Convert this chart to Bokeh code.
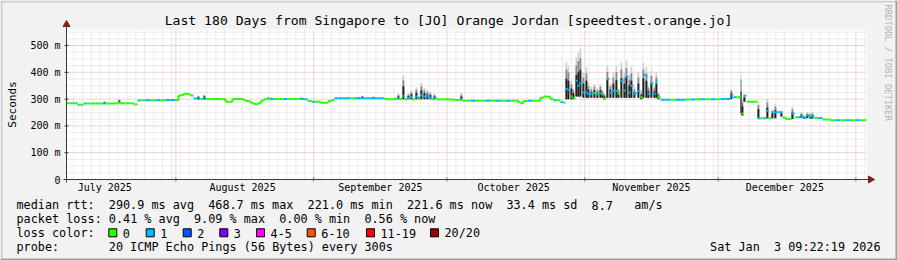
import re
import numpy as np
import pandas as pd
from bokeh.plotting import figure
from bokeh.models import Range1d, ColumnDataSource
from bokeh.core.properties import value
from bokeh.embed import file_html
from bokeh.resources import INLINE

# ---------------- data ----------------
title_text = "Last 180 Days from Singapore to [JO] Orange Jordan [speedtest.orange.jo]"
start_time = "2025-07-07 09:22:19"
end_time = "2026-01-03 09:22:19"

# days since start of the graph
day = [0.00, 0.90, 2.03, 2.48, 3.15, 3.83, 4.50, 5.40, 6.53, 7.65, 8.33, 9.00, 9.90,
       11.03, 11.70, 12.15, 13.28, 14.40, 15.08, 15.53, 15.98, 16.65, 17.78, 18.90,
       20.03, 21.15, 22.28, 23.40, 24.53, 25.20, 25.88, 26.55, 27.23, 27.90, 28.58,
       29.48, 30.15, 30.83, 31.50, 32.40, 33.53, 34.65, 35.33, 35.78, 36.45, 37.35,
       38.25, 39.15, 39.83, 40.50, 41.40, 42.08, 42.75, 43.20, 43.88, 44.55, 45.23,
       45.90, 46.58, 47.70, 48.83, 49.73, 50.85, 51.98, 52.65, 53.55, 54.23, 55.13,
       56.03, 57.15, 58.28, 58.95, 59.63, 60.30, 61.20, 62.10, 63.00, 63.90, 64.80,
       65.70, 66.38, 67.28, 68.18, 68.85, 69.75, 70.65, 71.55, 72.45, 73.13, 73.80,
       74.48, 74.93, 75.60, 76.05, 76.73, 77.40, 77.85, 78.53, 79.20, 79.65, 80.33,
       81.00, 81.68, 82.13, 82.58, 83.25, 84.15, 85.28, 86.40, 87.53, 88.20, 88.65,
       89.10, 90.00, 90.90, 92.03, 93.15, 94.28, 95.40, 96.53, 97.65, 98.78, 99.90,
       101.03, 101.70, 102.15, 102.83, 103.73, 104.85, 105.75, 106.65, 107.33, 108.23,
       108.90, 109.58, 110.25, 111.15, 111.83, 112.28, 112.73, 113.40, 113.85, 114.53,
       114.98, 115.43, 116.10, 116.78, 117.23, 117.90, 118.58, 119.25, 119.93, 120.38,
       120.83, 121.50, 122.18, 122.85, 123.53, 123.98, 124.65, 125.33, 125.78, 126.45,
       126.90, 127.58, 128.48, 129.15, 129.60, 130.28, 130.73, 131.40, 132.08, 132.53,
       132.98, 133.65, 134.78, 135.90, 137.03, 138.15, 139.28, 140.40, 141.53, 142.65,
       143.78, 144.90, 146.03, 147.15, 148.28, 149.40, 150.08, 150.75, 151.65, 151.88,
       152.33, 153.00, 153.90, 154.80, 155.48, 156.15, 156.83, 157.50, 157.95, 158.63,
       159.30, 159.98, 160.65, 161.10, 161.78, 162.45, 163.13, 163.80, 164.48, 165.15,
       165.83, 166.50, 167.18, 167.63, 168.30, 169.20, 170.10, 171.00, 171.90, 173.03,
       174.15, 175.28, 176.40, 177.53, 178.65, 179.78]

# median round trip time (ms)
median_ms = [285, 285, 285, 279, 279, 284, 284, 284, 284, 284, 284, 284, 284,
             285, 287, 285, 285, 285, 281, 281, 295, 296, 296, 296,
             296, 296, 297, 297, 296, 314, 316, 320, 318, 314, 302,
             301, 301, 301, 301, 301, 301, 301, 301, 290, 290, 301,
             301, 301, 296, 292, 287, 282, 281, 287, 296, 301, 301,
             301, 301, 301, 301, 301, 301, 301, 301, 300, 293, 290,
             290, 287, 287, 292, 297, 303, 303, 303, 303, 303, 303,
             303, 303, 303, 303, 303, 303, 303, 301, 300, 300, 301,
             305, 301, 312, 300, 305, 308, 300, 310, 301, 315, 310,
             312, 305, 300, 306, 300, 300, 300, 298, 297, 297, 300,
             294, 294, 294, 294, 294, 294, 294, 294, 294, 294, 294,
             294, 288, 285, 293, 294, 294, 294, 305, 310, 309,
             300, 296, 296, 289, 287, 338, 335, 310, 302, 369,
             350, 358, 325, 325, 320, 320, 322, 318, 322, 318,
             302, 375, 325, 332, 330, 320, 369, 332, 385, 325,
             350, 320, 330, 307, 390, 385, 320, 358, 320, 369,
             307, 298, 298, 298, 298, 298, 299, 299, 300, 300,
             300, 300, 300, 301, 301, 313, 307, 307, 369, 246,
             313, 290, 290, 290, 229, 229, 229, 257, 229, 251,
             251, 251, 251, 232, 226, 226, 246, 232, 232, 236,
             230, 240, 236, 236, 230, 230, 224, 224, 221, 221,
             221, 221, 221, 221, 221, 222]

# top of the smoke (slowest pings, ms)
smoke_top_ms = [285, 285, 285, 279, 279, 284, 284, 284, 284, 284, 292, 284, 284,
                285, 300, 285, 285, 285, 281, 281, 295, 296, 296, 296,
                296, 296, 297, 297, 296, 314, 316, 320, 318, 314, 302,
                313, 301, 317, 301, 301, 301, 301, 301, 290, 290, 301,
                301, 301, 296, 292, 287, 282, 281, 287, 296, 301, 308,
                306, 301, 301, 301, 301, 301, 301, 307, 300, 293, 290,
                290, 287, 287, 297, 297, 303, 303, 303, 303, 303, 303,
                308, 313, 303, 303, 310, 303, 303, 301, 300, 300, 306,
                320, 301, 388, 300, 322, 333, 300, 344, 310, 360, 342,
                333, 327, 300, 320, 300, 300, 300, 298, 297, 297, 322,
                294, 294, 294, 294, 294, 294, 294, 294, 294, 294, 294,
                294, 288, 285, 293, 294, 294, 294, 305, 310, 309,
                300, 296, 296, 289, 287, 438, 425, 370, 340, 456,
                475, 489, 400, 420, 360, 345, 357, 340, 357, 335,
                320, 425, 360, 400, 425, 340, 437, 400, 444, 390,
                420, 345, 400, 330, 437, 420, 350, 407, 350, 400,
                325, 298, 298, 298, 298, 298, 299, 299, 300, 300,
                300, 300, 300, 301, 301, 338, 307, 307, 394, 300,
                320, 290, 290, 290, 290, 229, 229, 301, 229, 262,
                282, 251, 258, 232, 226, 226, 270, 232, 232, 251,
                240, 251, 248, 251, 230, 230, 224, 224, 221, 221,
                221, 221, 221, 221, 221, 222]

# bottom of the smoke (fastest pings, ms)
smoke_low_ms = [285, 285, 285, 279, 279, 284, 284, 284, 284, 284, 284, 284, 284,
                285, 287, 285, 285, 285, 281, 281, 295, 296, 296, 296,
                296, 296, 297, 297, 296, 314, 316, 320, 318, 314, 302,
                301, 301, 301, 301, 301, 301, 301, 301, 290, 290, 301,
                301, 301, 296, 292, 287, 282, 281, 287, 296, 301, 301,
                301, 301, 301, 301, 301, 301, 301, 301, 300, 293, 290,
                290, 287, 287, 292, 297, 303, 303, 303, 303, 303, 303,
                303, 303, 303, 303, 303, 303, 303, 301, 300, 300, 301,
                300, 301, 300, 300, 300, 300, 300, 300, 300, 300, 300,
                300, 300, 300, 300, 300, 300, 300, 298, 297, 297, 296,
                294, 294, 294, 294, 294, 294, 294, 294, 294, 294, 294,
                294, 288, 285, 293, 294, 294, 294, 305, 310, 309,
                300, 296, 296, 289, 287, 300, 300, 300, 300, 310,
                310, 310, 305, 305, 305, 305, 305, 305, 305, 305,
                300, 305, 305, 305, 305, 305, 305, 305, 305, 305,
                305, 305, 305, 300, 305, 305, 305, 305, 305, 305,
                300, 298, 298, 298, 298, 298, 299, 299, 300, 300,
                300, 300, 300, 301, 301, 301, 307, 307, 246, 239,
                290, 290, 290, 290, 229, 229, 229, 229, 229, 229,
                229, 251, 235, 232, 226, 226, 226, 232, 232, 230,
                226, 230, 228, 228, 230, 230, 224, 224, 221, 221,
                221, 221, 221, 221, 221, 222]

# lost pings out of 20
lost_pings = [0, 0, 1, 0, 0, 1, 0, 0, 0, 0, 1, 0, 0,
              0, 0, 0, 0, 0, 0, 0, 1, 0, 1, 0,
              1, 0, 1, 1, 0, 0, 0, 0, 0, 0, 1,
              1, 0, 1, 0, 0, 0, 0, 0, 0, 0, 0,
              0, 0, 0, 0, 0, 0, 0, 0, 0, 0, 0,
              1, 0, 0, 1, 0, 0, 0, 1, 1, 0, 1,
              0, 0, 0, 0, 0, 1, 1, 1, 1, 0, 1,
              1, 1, 1, 1, 1, 1, 1, 0, 0, 0, 0,
              1, 0, 1, 0, 1, 1, 0, 1, 0, 1, 1,
              1, 1, 0, 1, 0, 0, 0, 0, 0, 0, 1,
              0, 0, 1, 0, 0, 1, 0, 1, 0, 1, 0,
              0, 0, 0, 0, 1, 0, 0, 0, 0, 0,
              0, 1, 0, 1, 0, 1, 1, 0, 0, 1,
              1, 1, 1, 1, 1, 1, 0, 1, 1, 0,
              0, 1, 1, 1, 1, 0, 1, 1, 1, 1,
              1, 1, 1, 0, 1, 1, 1, 1, 1, 1,
              0, 1, 1, 0, 1, 1, 0, 1, 0, 1,
              0, 1, 0, 1, 1, 1, 1, 0, 1, 0,
              1, 0, 0, 0, 1, 0, 1, 1, 0, 1,
              1, 1, 1, 0, 0, 0, 1, 0, 1, 1,
              1, 1, 0, 1, 0, 1, 0, 0, 0, 1,
              0, 1, 0, 1, 0, 0]

loss_labels = ["0", "1", "2", "3", "4-5", "6-10", "11-19", "20/20"]
loss_upper = [0, 1, 2, 3, 5, 10, 19, 20]
loss_colors = ["#26ff00", "#00b8ff", "#0059ff", "#7e00ff", "#ff00ff",
               "#ff5500", "#ff0000", "#a10000"]

month_labels = ["July 2025", "August 2025", "September 2025", "October 2025",
                "November 2025", "December 2025"]
month_label_dates = ["2025-07-16", "2025-08-16", "2025-09-16", "2025-10-16",
                     "2025-11-16", "2025-12-16"]
month_bounds = ["2025-08-01", "2025-09-01", "2025-10-01", "2025-11-01",
                "2025-12-01", "2026-01-01"]

y_ticks = [0, 100, 200, 300, 400, 500]
y_tick_labels = ["0", "100 m", "200 m", "300 m", "400 m", "500 m"]
y_max = 560
y_label = "Seconds"

rtt_line = "median rtt:  290.9 ms avg  468.7 ms max  221.0 ms min  221.6 ms now  33.4 ms sd  8.7   am/s"
loss_line = "packet loss: 0.41 % avg  9.09 % max  0.00 % min  0.56 % now"
color_line = "loss color:"
probe_line = "probe:       20 ICMP Echo Pings (56 Bytes) every 300s"
stamp_line = "Sat Jan  3 09:22:19 2026"
watermark = "RRDTOOL / TOBI OETIKER"

# ---------------- layout constants ----------------
DAY_MS = 86400000.0
def ms(ts):
    return pd.Timestamp(ts).value / 1e6

T0 = ms(start_time)
T1 = ms(end_time)

W, H = 897, 260
FL, FR, FT, FB = 66, 866, 29, 179      # graph area edges (canvas pixels)
MONO = "DejaVu Sans Mono"
BACK = "#f2f2f2"
SHADE_A, SHADE_B = "#cfcfcf", "#9e9e9e"
AXIS = "#3a3a3a"
ARROW = "#7f1f1f"
GRID = "#d9d9d9"
MGRID = "#dfaaaa"
CHAR = 7.1                              # advance of the legend font

def px_x(px):
    return T0 + (px - FL) / (FR - FL) * (T1 - T0)

def px_y(py):
    return (FB - py) / (FB - FT) * y_max

p = figure(width=W, height=H, output_backend="svg", toolbar_location=None, title=None,
           x_range=Range1d(px_x(0), px_x(W)), y_range=Range1d(px_y(H), px_y(0)),
           x_axis_location=None, y_axis_location=None,
           min_border=0, min_border_left=0, min_border_right=0,
           min_border_top=0, min_border_bottom=0)
p.border_fill_color = BACK
p.background_fill_color = BACK
p.outline_line_color = None
p.grid.visible = False

def text(xs, ys, texts, size="11.8px", align="left", angle=0.0, color="#000000"):
    p.text(x=list(xs), y=list(ys), text=list(texts), text_font=value(MONO),
           text_font_size=value(size), text_align=align, text_baseline="middle",
           text_color=color, angle=angle)

# graph canvas
p.quad(left=[T0], right=[T1], bottom=[0], top=[y_max], fill_color="#ffffff", line_color=None)

# grid
bounds_ms = [ms(d) for d in month_bounds]
two_day = [d * DAY_MS for d in range(int(T0 // DAY_MS), int(T1 // DAY_MS) + 2) if d % 2 == 0]
two_day = [v for v in two_day if T0 < v < T1 and v not in bounds_ms]
y_minor = [v for v in range(25, y_max, 25) if v not in y_ticks]
p.segment(x0=two_day, y0=0, x1=two_day, y1=y_max, line_color=GRID, line_dash="1 1", line_width=1)
p.segment(x0=T0, y0=y_minor, x1=T1, y1=y_minor, line_color=GRID, line_dash="1 1", line_width=1)
p.segment(x0=bounds_ms, y0=0, x1=bounds_ms, y1=y_max, line_color=MGRID, line_dash="1 1", line_width=1)
p.segment(x0=T0, y0=y_ticks[1:], x1=T1, y1=y_ticks[1:], line_color=MGRID, line_dash="1 1", line_width=1)

# data
t = T0 + np.array(day) * DAY_MS
t_next = np.append(t[1:], T1)
med = np.array(median_ms, dtype=float)
top = np.array(smoke_top_ms, dtype=float)
low = np.array(smoke_low_ms, dtype=float)
loss = np.array(lost_pings)

def loss_color(n):
    for ub, c in zip(loss_upper, loss_colors):
        if n <= ub:
            return c
    return loss_colors[-1]

col = np.array([loss_color(n) for n in loss])

# smoke
m = top > low
w = np.minimum(t_next - t, 0.4 * DAY_MS)
for frac, c in [(1.0, "#d2d2d2"), (0.8, "#8a8a8a"), (0.55, "#202020")]:
    src = ColumnDataSource(dict(left=t[m], right=(t + w)[m], bottom=low[m],
                                top=(low + (top - low) * frac)[m]))
    p.quad(left="left", right="right", bottom="bottom", top="top", source=src,
           fill_color=c, line_color=None)

# median line coloured by packet loss
flat = (top == low)
join = (loss[:-1] == loss[1:]) & flat[:-1] & flat[1:]
conn = ColumnDataSource(dict(x=t_next[:-1][join], y0=med[:-1][join],
                             y1=med[1:][join], c=col[1:][join]))
p.segment(x0="x", y0="y0", x1="x", y1="y1", line_color="c", line_width=2, source=conn)
seg = ColumnDataSource(dict(x0=t, x1=t_next, y=med, c=col))
p.segment(x0="x0", y0="y", x1="x1", y1="y", line_color="c", line_width=2, source=seg)

# axes
p.segment(x0=[T0, px_x(63)], y0=[px_y(26), 0], x1=[T0, px_x(870)], y1=[px_y(182), 0],
          line_color=AXIS, line_width=1)
p.segment(x0=px_x(64), y0=y_ticks[1:], x1=px_x(68), y1=y_ticks[1:], line_color=AXIS, line_width=1)
p.segment(x0=bounds_ms, y0=px_y(177), x1=bounds_ms, y1=px_y(181), line_color="#b04040", line_width=1)
p.scatter(x=[T0], y=[px_y(24)], marker="triangle", size=7, fill_color=ARROW, line_color=ARROW)
p.scatter(x=[px_x(870)], y=[0], marker="triangle", size=7, angle=-np.pi / 2,
          fill_color=ARROW, line_color=ARROW)

text([px_x(60)] * len(y_ticks), y_ticks, y_tick_labels, size="10px", align="right")
text([ms(d) for d in month_label_dates], [px_y(187)] * len(month_labels), month_labels,
     size="10px", align="center")
text([px_x(12)], [y_max / 2], [y_label], size="11px", align="center", angle=np.pi / 2)

# title and watermark
text([px_x(448)], [px_y(20)], [title_text], size="13.1px", align="center")
text([px_x(887)], [px_y(4)], [watermark], size="8.8px", angle=-np.pi / 2, color="#b4b4b4")

# legend lines (tokens placed on the monospace grid)
def line_tokens(line, px0, py):
    xs, ys, ts = [], [], []
    for mt in re.finditer(r"\S+(?: \S+)*", line):
        xs.append(px_x(px0 + mt.start() * CHAR))
        ys.append(px_y(py))
        ts.append(mt.group())
    return xs, ys, ts

for line, py in [(rtt_line, 204.5), (loss_line, 218.5), (color_line, 232.5), (probe_line, 246.5)]:
    text(*line_tokens(line, 16, py))
text(*line_tokens(stamp_line, 880 - len(stamp_line) * CHAR, 246.5))

box_x = np.array([108.3, 145.7, 182.7, 219.3, 256.0, 306.7, 366.0, 430.0])
p.rect(x=[px_x(b + 4) for b in box_x], y=px_y(232.3), width=8, height=8,
       width_units="screen", height_units="screen", fill_color=loss_colors,
       line_color="#000000", line_width=1)
text([px_x(b + 14) for b in box_x], [px_y(232.5)] * len(box_x), loss_labels)

# bevelled outer frame
p.segment(x0=[px_x(0), px_x(1)], y0=[px_y(1), px_y(0)], x1=[px_x(W), px_x(1)],
          y1=[px_y(1), px_y(H)], line_color=SHADE_A, line_width=2)
p.segment(x0=[px_x(0), px_x(W - 1)], y0=[px_y(H - 1), px_y(0)], x1=[px_x(W), px_x(W - 1)],
          y1=[px_y(H - 1), px_y(H)], line_color=SHADE_B, line_width=2)

open("out.html", "w").write(file_html(p, INLINE))
